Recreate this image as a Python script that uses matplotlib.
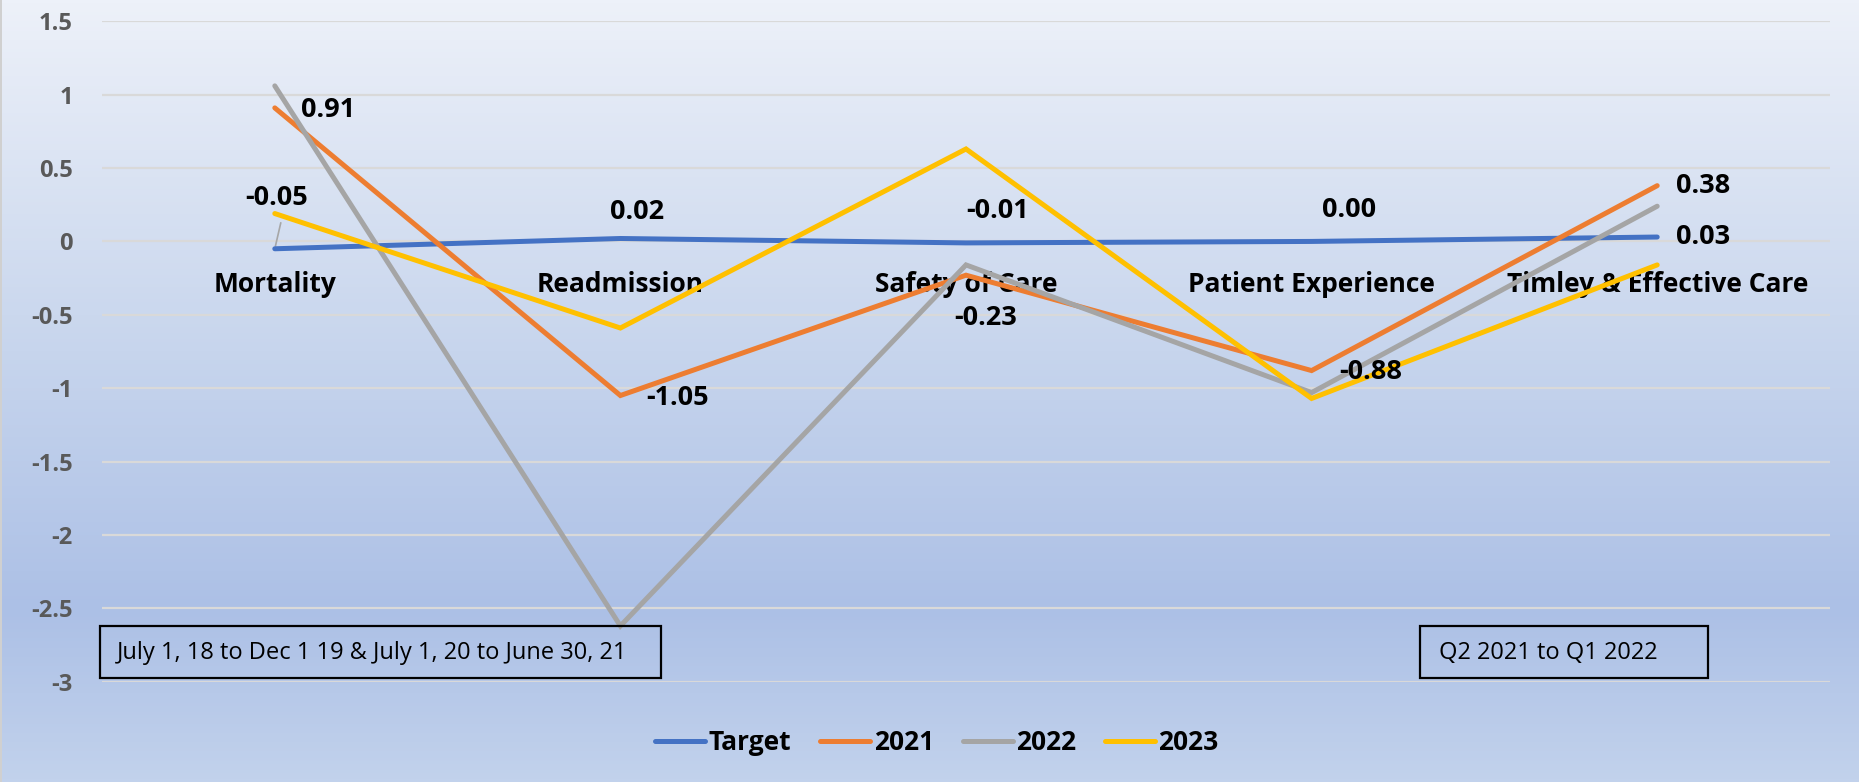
import numpy as np
import matplotlib
matplotlib.use("Agg")
import matplotlib.pyplot as plt
from matplotlib import font_manager
from matplotlib.colors import LinearSegmentedColormap
from matplotlib.patches import Rectangle

# ---------------- data ----------------
categories = ["Mortality", "Readmission", "Safety of Care", "Patient Experience", "Timley & Effective Care"]
series_names = ["Target", "2021", "2022", "2023"]
target = [-0.05, 0.02, -0.01, 0.00, 0.03]
y2021 = [0.91, -1.05, -0.23, -0.88, 0.38]
y2022 = [1.06, -2.62, -0.16, -1.03, 0.24]
y2023 = [0.19, -0.59, 0.63, -1.07, -0.16]
yticks = [-3, -2.5, -2, -1.5, -1, -0.5, 0, 0.5, 1, 1.5]
note_left = "July 1, 18 to Dec 1 19 & July 1, 20 to June 30, 21"
note_right = "Q2 2021 to Q1 2022"

colors = ["#4472C4", "#ED7D31", "#A5A5A5", "#FFC000"]

# ---------------- fonts ----------------
avail = {f.name for f in font_manager.fontManager.ttflist}
fam = "DejaVu Sans"
for cand in ["Liberation Sans Narrow", "Open Sans", "Lato", "Liberation Sans"]:
    if cand in avail:
        fam = cand
        break
plt.rcParams["font.family"] = [fam, "DejaVu Sans"]

W, H = 1859, 782
fig = plt.figure(figsize=(W / 100, H / 100), dpi=100)

# ---------------- gradient background ----------------
bg = fig.add_axes([0, 0, 1, 1], zorder=-10)
cmap = LinearSegmentedColormap.from_list(
    "bg", [(0.0, "#EDF1F9"), (0.40, "#CBD8EE"), (0.78, "#ACC0E6"), (1.0, "#C2D2EC")])
grad = np.linspace(0, 1, 256).reshape(-1, 1)
bg.imshow(grad, aspect="auto", cmap=cmap, extent=[0, 1, 0, 1], origin="upper")
bg.axis("off")
fig.add_artist(Rectangle((0.0, 0.0), 1.5 / W, 1, transform=fig.transFigure,
                         facecolor="#D0D0D0", edgecolor="none"))

# ---------------- main axes ----------------
left, right, top, bottom = 102, 1830, 21.3, 681.7
ax = fig.add_axes([left / W, 1 - bottom / H, (right - left) / W, (bottom - top) / H])
ax.set_facecolor("none")
x = np.arange(len(categories))
all_series = [target, y2021, y2022, y2023]
for name, vals, c in zip(series_names, all_series, colors):
    ax.plot(x, vals, color=c, lw=3.6, solid_capstyle="round", solid_joinstyle="miter", label=name, zorder=3)

ax.set_xlim(-0.5, len(categories) - 0.5)
ax.set_ylim(-3, 1.5)
ax.set_yticks(yticks)
ax.set_yticklabels([f"{t:g}" for t in yticks])
ax.set_xticks([])
for s in ax.spines.values():
    s.set_visible(False)
ax.tick_params(axis="y", length=0, pad=21, labelsize=17, labelcolor="#595959")
for lab in ax.get_yticklabels():
    lab.set_fontweight("bold")
ax.grid(axis="y", color="#D9D9D9", lw=1.6, zorder=1)
ax.set_axisbelow(True)

# category labels just below the zero line
for i, cat in enumerate(categories):
    ax.annotate(cat, (i, 0), xytext=(0, -43), textcoords="offset pixels",
                ha="center", va="center", fontsize=19, fontweight="bold", color="black", zorder=2)

# data labels: (series values, index, dx px, dy px)
lab_kw = dict(textcoords="offset pixels", ha="center", va="center",
              fontsize=19.5, fontweight="bold", color="black", zorder=5)
placements = [
    (y2021, 0, 53, -2), (y2021, 1, 57, -2), (y2021, 2, 20, -43), (y2021, 3, 59, -1), (y2021, 4, 46, 0),
    (target, 1, 17, 26), (target, 2, 32, 32), (target, 3, 37, 31), (target, 4, 46, 0),
]
for vals, i, dx, dy in placements:
    ax.annotate(f"{vals[i]:.2f}", (i, vals[i]), xytext=(dx, dy), **lab_kw)
# Mortality target label with leader line
ax.annotate(f"{target[0]:.2f}", (0, target[0]), xytext=(2, 51), **lab_kw)
ax.annotate("", xy=(0, target[0]), xytext=(6, 26), textcoords="offset pixels",
            arrowprops=dict(arrowstyle="-", color="#A6A6A6", lw=1.2, shrinkA=0, shrinkB=2), zorder=2)

# ---------------- note boxes ----------------
def note(x0, x1, y0, y1, txt, tx):
    fig.add_artist(Rectangle((x0 / W, 1 - y1 / H), (x1 - x0) / W, (y1 - y0) / H,
                             transform=fig.transFigure, facecolor="none", edgecolor="black", lw=1.6, zorder=6))
    fig.text(tx / W, 1 - ((y0 + y1) / 2 + 1) / H, txt, ha="left", va="center", fontsize=17, color="black", zorder=7)

note(100, 661, 626, 678, note_left, 117)
note(1420, 1708, 626, 678, note_right, 1439)

# ---------------- legend ----------------
fig.legend(*ax.get_legend_handles_labels(), loc="center", bbox_to_anchor=(937 / W, 1 - 743 / H),
           ncol=4, frameon=False, handlelength=1.9, handletextpad=0.12, columnspacing=1.1,
           prop=dict(family=[fam, "DejaVu Sans"], size=19, weight="bold"))

fig.savefig("out.png", dpi=100)
